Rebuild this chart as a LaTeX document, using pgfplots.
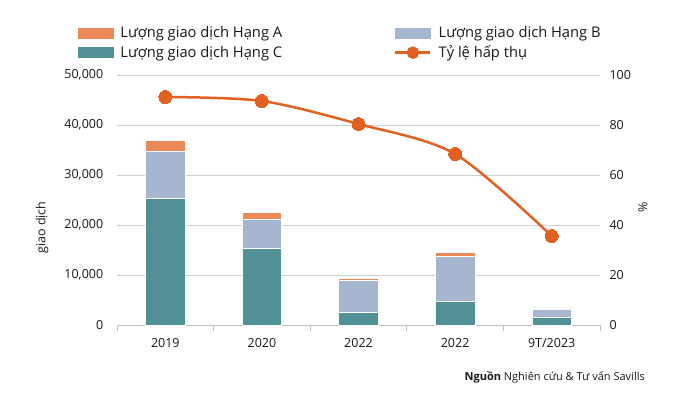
\documentclass[border=0pt]{standalone}
\usepackage{fontspec}
\setmainfont{Open Sans}
\usepackage{pgfplots}
\pgfplotsset{compat=1.18}
\definecolor{cA}{RGB}{235,137,87}
\definecolor{cB}{RGB}{166,182,208}
\definecolor{cC}{RGB}{81,145,150}
\definecolor{cL}{RGB}{225,97,34}
\definecolor{gridc}{RGB}{208,208,208}
\definecolor{axc}{RGB}{195,195,195}
\definecolor{txt}{RGB}{25,25,25}
\begin{document}
\begin{tikzpicture}[x=1pt,y=1pt,font=\fontsize{12.5}{15}\selectfont]
\path[use as bounding box] (0,0) rectangle (700,408);
\begin{axis}[
  at={(117pt,83pt)}, anchor=south west, scale only axis,
  width=483pt, height=250pt,
  ybar stacked, bar width=0.41,
  xmin=-0.5, xmax=4.5, ymin=0, ymax=50000,
  xtick={0,1,2,3,4}, xticklabels={2019,2020,2022,2022,9T/2023},
  minor xtick={-0.5,0.5,1.5,2.5,3.5,4.5},
  ytick={0,10000,...,50000},
  scaled y ticks=false,
  /pgf/number format/.cd, fixed, 1000 sep={,}, assume math mode=true,
  /pgfplots/.cd,
  axis x line*=bottom, axis y line*=left,
  y axis line style={draw=none},
  x axis line style={axc, line width=1pt, -},
  major x tick style={draw=none},
  minor x tick style={axc, line width=1pt},
  minor tick length=6pt, tick align=outside,
  major y tick style={draw=none},
  ymajorgrids, grid style={gridc, line width=1pt},
  xticklabel style={text=txt, yshift=-6pt},
  yticklabel style={text=txt, xshift=-6pt},
  ylabel={giao dịch},
  ylabel style={at={(axis description cs:-0.155,0.39)}, anchor=center, rotate=0, text=txt},
]
\addplot+[fill=cC, draw=white, line width=0.5pt] coordinates {(0,25300) (1,15300) (2,2500) (3,4700) (4,1500)};
\addplot+[fill=cB, draw=white, line width=0.5pt] coordinates {(0,9500) (1,5800) (2,6500) (3,9100) (4,1700)};
\addplot+[fill=cA, draw=white, line width=0.5pt] coordinates {(0,2200) (1,1500) (2,400) (3,700) (4,150)};
\end{axis}
\begin{axis}[
  at={(117pt,83pt)}, anchor=south west, scale only axis,
  width=483pt, height=250pt,
  xmin=-0.5, xmax=4.5, ymin=0, ymax=100,
  axis x line=none, axis y line*=right,
  y axis line style={draw=none},
  major y tick style={draw=none},
  ytick={0,20,...,100},
  /pgf/number format/assume math mode=true,
  yticklabel style={text=txt, xshift=6pt},
  ylabel={\%},
  ylabel style={at={(axis description cs:1.089,0.472)}, anchor=center, rotate=0, text=txt},
  legend columns=2,
  legend cell align=left,
  legend style={at={(axis description cs:-0.081,1.198)}, anchor=north west, draw=none, fill=none,
    inner sep=0pt, row sep=4.5pt,
    font=\fontsize{14.7}{17}\selectfont,
    nodes={inner sep=1pt, text=txt},
    /tikz/every even column/.append style={column sep=111pt},
    /tikz/every odd column/.append style={column sep=6pt}},
]
\addlegendimage{legend image code/.code={\fill[cA] (0pt,-5pt) rectangle (35pt,5pt);}}
\addlegendentry{Lượng giao dịch Hạng A}
\addlegendimage{legend image code/.code={\fill[cB] (0pt,-5pt) rectangle (35pt,5pt);}}
\addlegendentry{Lượng giao dịch Hạng B}
\addlegendimage{legend image code/.code={\fill[cC] (0pt,-5pt) rectangle (35pt,5pt);}}
\addlegendentry{Lượng giao dịch Hạng C}
\addplot[cL, line width=2.5pt, smooth, mark=*, mark size=6.5pt, mark options={fill=cL, draw=cL, line width=0pt},
  legend image code/.code={\draw[cL, line width=2.5pt] (0pt,0pt) -- (35pt,0pt); \fill[cL] (17.5pt,0pt) circle (5pt);}]
  coordinates {(0,91.2) (1,89.6) (2,80.4) (3,68.4) (4,35.6)};
\addlegendentry{Tỷ lệ hấp thụ}
\end{axis}
\node[anchor=east, inner sep=0pt, font=\fontsize{11}{13}\selectfont, text=txt] at (645,31) {\textbf{Nguồn} Nghiên cứu \& Tư vấn Savills};
\end{tikzpicture}
\end{document}
